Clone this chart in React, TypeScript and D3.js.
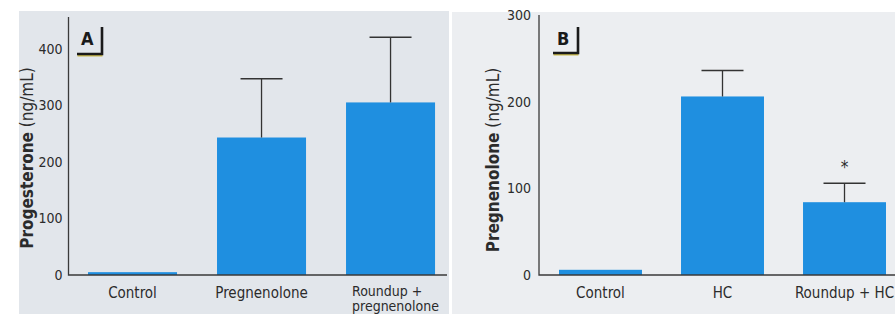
import React, { useEffect, useRef } from 'react';
import * as d3 from 'd3';

// panel A
const catsA = ['Control', 'Pregnenolone', 'Roundup +\npregnenolone'];
const valsA = [5, 243, 305];
const errA = [0, 104, 115];
const ticksA = [0, 100, 200, 300, 400];

// panel B
const catsB = ['Control', 'HC', 'Roundup + HC'];
const valsB = [6, 206, 84];
const errB = [0, 30, 22];
const ticksB = [0, 100, 200, 300];
const starsB = ['', '', '*'];

const FONT = '"Liberation Sans Narrow", "DejaVu Sans Condensed", "Roboto Condensed", Arial, sans-serif';
const BLUE = '#1f8fe0';
const INK = '#2b2b2b';

function drawPanel(svg: any, o: any) {
  var g = svg.append('g');

  // background of the printed panel
  g.append('rect')
    .attr('x', o.bg[0]).attr('y', o.bg[1])
    .attr('width', o.bg[2]).attr('height', o.bg[3])
    .attr('fill', o.bgColor);

  var y = d3.scaleLinear().domain([0, o.yMax]).range([o.y0, o.yTop]);
  var x = d3.scaleBand()
    .domain(o.cats)
    .range(o.xRange)
    .paddingInner(o.padIn)
    .paddingOuter(o.padOut);

  // bars
  g.selectAll('.bar')
    .data(o.vals)
    .enter().append('rect')
    .attr('x', (d: number, i: number) => x(o.cats[i]))
    .attr('y', (d: number) => y(d))
    .attr('width', x.bandwidth())
    .attr('height', (d: number) => o.y0 - y(d))
    .attr('fill', BLUE);

  // error bars (upper only)
  o.vals.forEach(function (v: number, i: number) {
    if (!o.err[i]) return;
    var cx = (x(o.cats[i]) as number) + x.bandwidth() / 2;
    g.append('line')
      .attr('x1', cx).attr('x2', cx)
      .attr('y1', y(v)).attr('y2', y(v + o.err[i]))
      .attr('stroke', '#333').attr('stroke-width', 1.3);
    g.append('line')
      .attr('x1', cx - o.cap / 2).attr('x2', cx + o.cap / 2)
      .attr('y1', y(v + o.err[i])).attr('y2', y(v + o.err[i]))
      .attr('stroke', '#333').attr('stroke-width', 1.5);
    if (o.stars && o.stars[i]) {
      g.append('text')
        .attr('x', cx).attr('y', y(v + o.err[i]) - 10)
        .attr('text-anchor', 'middle')
        .style('font-family', FONT).style('font-size', '17px')
        .attr('fill', INK)
        .text(o.stars[i]);
    }
  });

  // axis lines
  g.append('path')
    .attr('d', 'M' + o.axisX + ',' + o.axisTop + 'V' + o.y0 + 'H' + o.axisRight)
    .attr('fill', 'none').attr('stroke', '#3a3a3a').attr('stroke-width', 1.3);

  // y tick labels
  var ax = g.append('g')
    .attr('transform', 'translate(' + o.axisX + ',0)')
    .call(d3.axisLeft(y).tickValues(o.ticks).tickSize(0).tickPadding(o.tickPad));
  ax.select('.domain').remove();
  ax.selectAll('text')
    .style('font-family', FONT).style('font-size', '14px')
    .attr('fill', INK);

  // category labels
  o.cats.forEach(function (c: string, i: number) {
    var lines = c.split('\n');
    var bx = x(c) as number;
    if (lines.length > 1) {
      // two-line label, left aligned, each line its own text
      lines.forEach(function (l: string, k: number) {
        g.append('text')
          .attr('x', bx + 6).attr('y', 296 + k * 15)
          .attr('text-anchor', 'start')
          .style('font-family', FONT).style('font-size', '14px')
          .attr('fill', INK)
          .text(l);
      });
    } else {
      g.append('text')
        .attr('x', bx + x.bandwidth() / 2).attr('y', 298)
        .attr('text-anchor', 'middle')
        .style('font-family', FONT).style('font-size', '15px')
        .attr('fill', INK)
        .text(c);
    }
  });

  // y axis title
  var yt = g.append('text')
    .attr('transform', 'translate(' + o.titleX + ',' + o.titleY + ') rotate(-90)')
    .attr('text-anchor', 'middle')
    .style('font-family', FONT).style('font-size', '17px')
    .attr('fill', INK);
  yt.append('tspan').style('font-weight', 'bold').text(o.title);
  yt.append('tspan').text(' (ng/mL)');

  // panel letter with corner bracket
  g.append('text')
    .attr('x', o.letter[0]).attr('y', o.letter[1])
    .style('font-family', FONT).style('font-size', '18px').style('font-weight', 'bold')
    .attr('fill', '#1a1a1a')
    .text(o.letterText);
  var bx0 = o.bracket[0], by0 = o.bracket[1], bx1 = o.bracket[2], by1 = o.bracket[3];
  g.append('path')
    .attr('d', 'M' + (bx0 + 0.5) + ',' + (by1 + 1.5) + 'H' + (bx1 + 0.5))
    .attr('fill', 'none').attr('stroke', '#c9b94a').attr('stroke-width', 2);
  g.append('path')
    .attr('d', 'M' + bx1 + ',' + by0 + 'V' + by1 + 'H' + bx0)
    .attr('fill', 'none').attr('stroke', '#1a1a1a').attr('stroke-width', 2.6);
}

export default function App() {
  const ref = useRef<SVGSVGElement>(null);

  useEffect(() => {
    var svg = d3.select(ref.current);
    svg.selectAll('*').remove();

    drawPanel(svg, {
      bg: [19, 11, 430, 303], bgColor: '#e2e6eb',
      cats: catsA, vals: valsA, err: errA, ticks: ticksA,
      yMax: 456, y0: 275, yTop: 17,
      xRange: [68.65, 454.4], padIn: 0.31, padOut: 0.15,
      axisX: 68.5, axisTop: 17, axisRight: 447, tickPad: 6,
      cap: 42,
      title: 'Progesterone', titleX: 33, titleY: 158,
      letter: [81, 45], letterText: 'A',
      bracket: [77, 27, 102, 54]
    });

    drawPanel(svg, {
      bg: [452, 12, 443, 302], bgColor: '#eceef1',
      cats: catsB, vals: valsB, err: errB, ticks: ticksB, stars: starsB,
      yMax: 300, y0: 275, yTop: 15,
      xRange: [539, 906], padIn: 0.32, padOut: 0.164,
      axisX: 539, axisTop: 15, axisRight: 895, tickPad: 8,
      cap: 42,
      title: 'Pregnenolone', titleX: 499, titleY: 160,
      letter: [557, 45], letterText: 'B',
      bracket: [553, 27, 578, 53]
    });
  }, []);

  return (
    <svg ref={ref} width={895} height={314}
      style={{ position: 'absolute', left: 0, top: 0, background: '#ffffff' }} />
  );
}
